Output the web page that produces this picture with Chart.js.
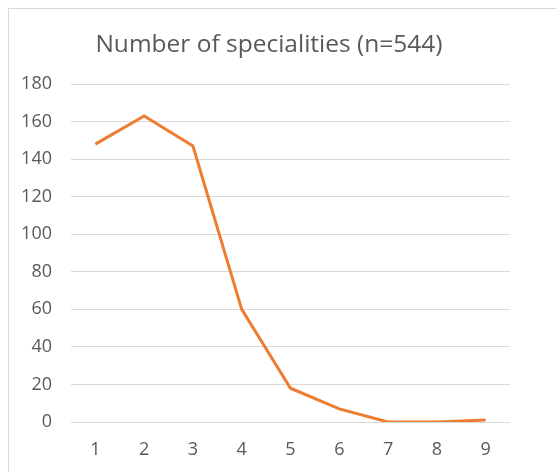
<!DOCTYPE html>
<html lang="en">
<head>
<meta charset="UTF-8">
<title>Number of specialities</title>
<style>
  body { margin: 0; background: #fff; }
  #wrap { position: relative; width: 556px; height: 472px; overflow: hidden; }
  #frame { position: absolute; left: 8px; top: 8px; width: 600px; height: 500px;
           border-top: 1px solid #d9d9d9; border-left: 1px solid #d9d9d9; }
  #chart { position: absolute; left: 0; top: 0; }
  #title { position: absolute; left: 0; top: 28px; width: 538px; text-align: center;
           font-family: 'Open Sans', sans-serif; font-size: 24.5px; line-height: 30px; color: #595959; }
</style>
</head>
<body>
<div id="wrap">
  <div id="frame"></div>
  <canvas id="chart" width="556" height="472"></canvas>
  <div id="title">Number of specialities (n=544)</div>
</div>

<script src="https://cdn.jsdelivr.net/npm/chart.js"></script>
<script>
  const categories = ['1', '2', '3', '4', '5', '6', '7', '8', '9'];
  const counts = [148, 163, 147, 60, 18, 7, 0, 0, 1];
  const yMax = 180;
  const yStep = 20;

  const textColor = '#595959';
  const gridColor = '#d9d9d9';

  new Chart(document.getElementById('chart'), {
    type: 'line',
    data: {
      labels: categories,
      datasets: [{
        label: 'Number of specialities',
        data: counts,
        borderColor: '#ED7D31',
        borderWidth: 3,
        pointRadius: 0,
        tension: 0,
        fill: false
      }]
    },
    options: {
      responsive: false,
      animation: false,
      layout: { padding: { left: 8, right: 46, top: 84, bottom: 0 } },
      plugins: {
        legend: { display: false },
        tooltip: { enabled: false },
        title: { display: false }
      },
      scales: {
        x: {
          offset: true,
          grid: { display: false, drawTicks: false },
          border: { display: false },
          ticks: { color: textColor, font: { family: 'Open Sans', size: 18 }, padding: 17 },
          afterFit: s => { s.height = 50; }
        },
        y: {
          min: 0,
          max: yMax,
          grid: { color: gridColor, lineWidth: 1, drawTicks: false },
          border: { display: false },
          ticks: { stepSize: yStep, color: textColor, font: { family: 'Open Sans', size: 18 }, padding: 19 },
          afterFit: s => { s.width = 63; }
        }
      }
    }
  });
</script>
</body>
</html>
